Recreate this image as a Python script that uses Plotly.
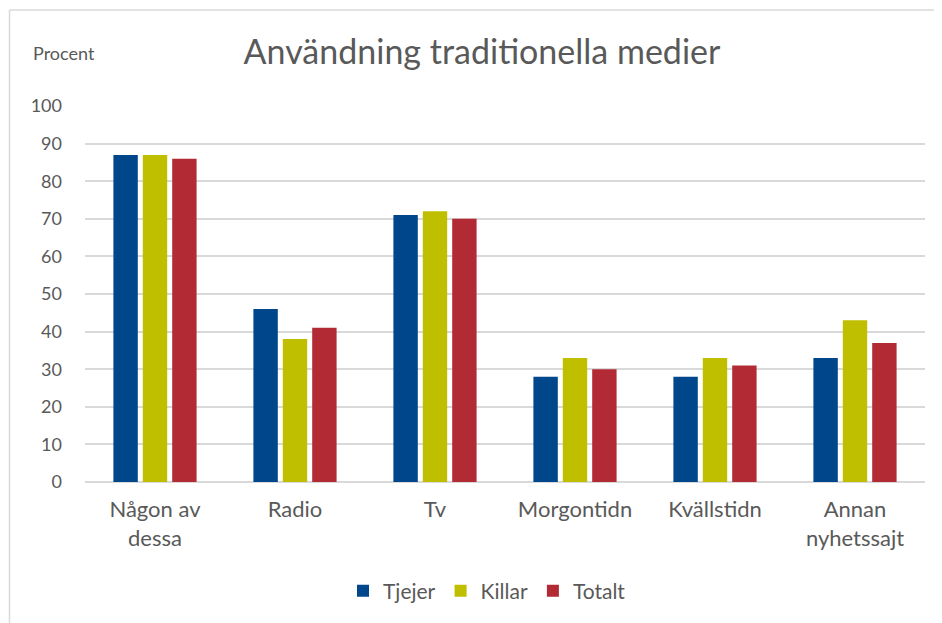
import plotly.graph_objects as go

categories = ["Någon av<br>dessa", "Radio", "Tv", "Morgontidn", "Kvällstidn", "Annan<br>nyhetssajt"]
tjejer = [87, 46, 71, 28, 28, 33]
killar = [87, 38, 72, 33, 33, 43]
totalt = [86, 41, 70, 30, 31, 37]
y_ticks = [0, 10, 20, 30, 40, 50, 60, 70, 80, 90, 100]

FONT = "Lato"
TXT = "#595959"

OFF = 8  # page body margin
W, H = 942 - OFF, 623 - OFF
# reference pixel geometry of the plot area
RL, RR, RT, RB = 85, 925, 106, 482
L, T = RL - OFF, RT - OFF
R = W - (RR - OFF)
B = H - (RB - OFF)
pw, ph = RR - RL, RB - RT

def px_x(x):
    return (x - RL) / pw

def px_y(y):
    return (RB - y) / ph

fig = go.Figure()
for name, vals, col in [("Tjejer", tjejer, "#00468B"),
                        ("Killar", killar, "#BFBF00"),
                        ("Totalt", totalt, "#B22A33")]:
    fig.add_trace(go.Bar(x=categories, y=vals, name=name, marker_color=col,
                         marker_line_width=0))

fig.update_layout(
    width=W, height=H,
    margin=dict(l=L, r=R, t=T, b=B),
    paper_bgcolor="white", plot_bgcolor="white",
    barmode="group", bargap=0.37, bargroupgap=0.17,
    font=dict(family=FONT, color=TXT),
    title=dict(text="Användning traditionella medier", x=(482 - OFF) / W, xanchor="center",
               y=1 - (52 - OFF) / H, yanchor="middle",
               font=dict(family=FONT, size=34, color=TXT)),
    showlegend=True,
    legend=dict(orientation="h", x=px_x(487), xanchor="center",
                y=px_y(591), yanchor="middle",
                font=dict(family=FONT, size=21, color=TXT),
                itemwidth=30, tracegroupgap=0),
    xaxis=dict(showgrid=False, showline=False, ticks="", ticklabelstandoff=12,
               tickfont=dict(family=FONT, size=22, color=TXT)),
    yaxis=dict(range=[0, 100], tickvals=y_ticks, showgrid=True,
               gridcolor="#D9D9D9", gridwidth=1.7, zeroline=True,
               zerolinecolor="#D9D9D9", zerolinewidth=1.7,
               showline=False, ticks="", ticklabelstandoff=22,
               tickfont=dict(family=FONT, size=18, color=TXT)),
    annotations=[dict(text="Procent", xref="paper", yref="paper",
                      x=px_x(31), xanchor="left", y=px_y(53), yanchor="middle",
                      showarrow=False, font=dict(family=FONT, size=18, color=TXT))],
    shapes=[
        dict(type="line", xref="paper", yref="paper",
             x0=px_x(9.5), x1=px_x(960), y0=px_y(10), y1=px_y(10),
             line=dict(color="#D9D9D9", width=1.5)),
        dict(type="line", xref="paper", yref="paper",
             x0=px_x(9.5), x1=px_x(9.5), y0=px_y(10), y1=px_y(640),
             line=dict(color="#D9D9D9", width=1.5)),
    ],
)

fig.write_html("out.html")
